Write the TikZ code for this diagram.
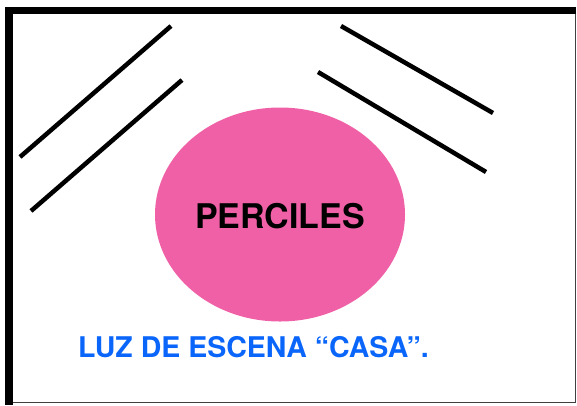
\documentclass[tikz,border=0pt]{standalone}
\usepackage{fontspec}
\setmainfont{TeX Gyre Heros}
\definecolor{pinkfill}{RGB}{239,96,167}
\definecolor{luzblue}{RGB}{10,102,250}
\begin{document}
\begin{tikzpicture}[x=1pt,y=-1pt,
  ray/.style={line width=4.5pt,black},
  frameline/.style={line width=1.2pt,black!75}]
\useasboundingbox (0,0) rectangle (577,405);
% frame
\fill[black] (5,7) rectangle (576,14);
\fill[black] (5,7) rectangle (13,405);
\draw[frameline] (575.5,14) -- (575.5,402.5) -- (13,402.5);
% rays
\coordinate (l1a) at (20,157); \coordinate (l1b) at (171,26);
\coordinate (l2a) at (31,211); \coordinate (l2b) at (182,80);
\coordinate (r1a) at (341,26); \coordinate (r1b) at (493,113);
\coordinate (r2a) at (318,72); \coordinate (r2b) at (486,172);
\draw[ray] (l1a) -- (l1b);
\draw[ray] (l2a) -- (l2b);
\draw[ray] (r1a) -- (r1b);
\draw[ray] (r2a) -- (r2b);
% ellipse
\fill[pinkfill] (280,214.5) ellipse [x radius=125, y radius=107];
\node[font=\bfseries\fontsize{34}{40}\selectfont, anchor=base, inner sep=0] (perc) at (280,228) {PERCILES};
\node[font=\bfseries\fontsize{28.5}{34}\selectfont, text=luzblue, anchor=base west, inner sep=0] (luz) at (78,357) {LUZ DE ESCENA “CASA”.};
\end{tikzpicture}
\end{document}
